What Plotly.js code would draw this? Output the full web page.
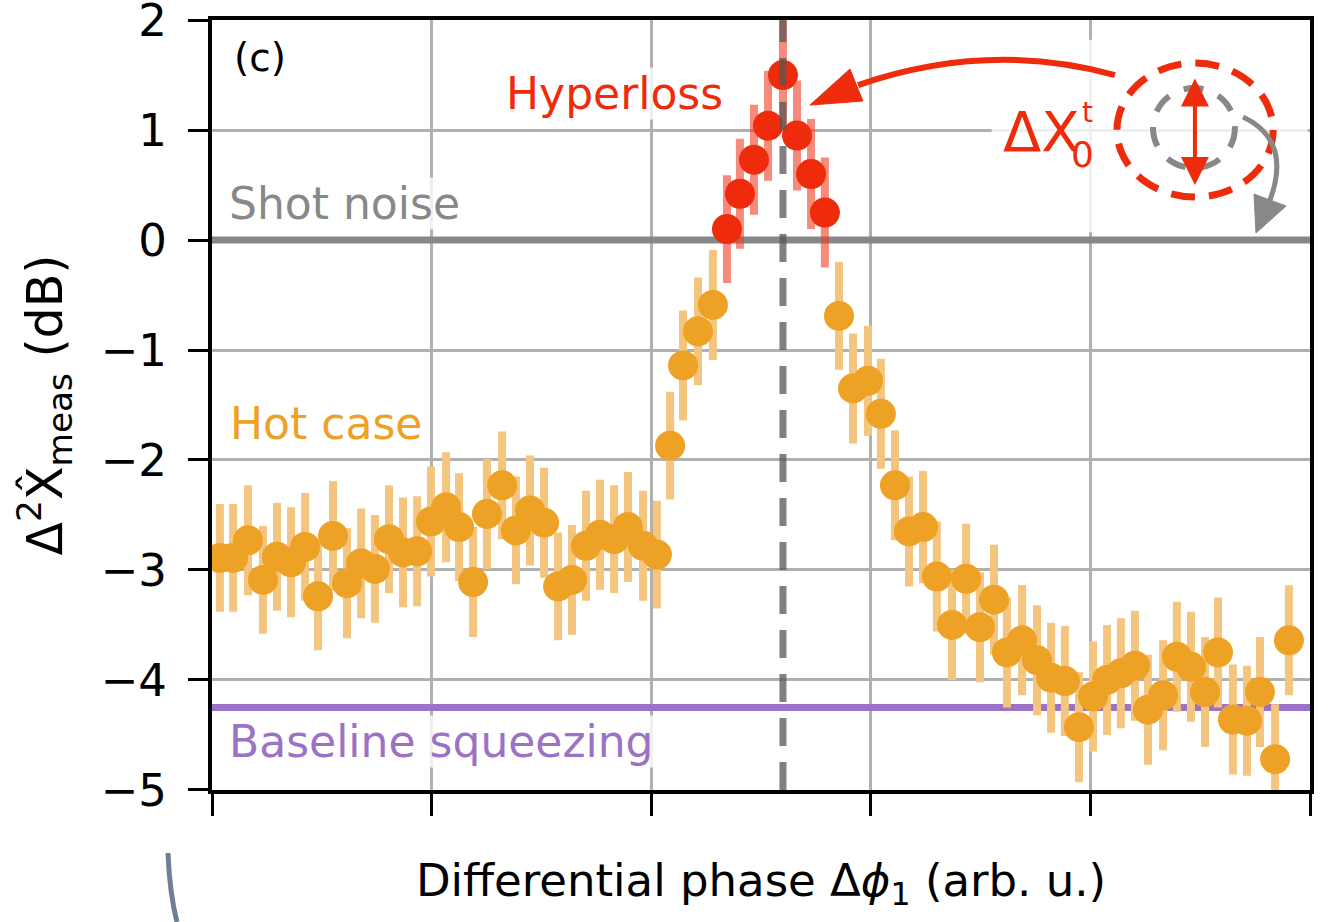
<!DOCTYPE html>
<html>
<head>
<meta charset="utf-8">
<script src="https://cdn.plot.ly/plotly-3.0.1.min.js"></script>
<style>
  html, body { margin: 0; padding: 0; background: #fff; }
  #plot { width: 1332px; height: 922px; }
</style>
</head>
<body>
<div id="plot"></div>
<script>
// hot case points (orange)
var hotPhase = [0.036, 0.096, 0.164, 0.232, 0.296, 0.360, 0.424, 0.483, 0.551, 0.615,
  0.679, 0.742, 0.806, 0.870, 0.934, 0.997, 1.066, 1.125, 1.189, 1.252,
  1.321, 1.384, 1.448, 1.512, 1.576, 1.639, 1.703, 1.767, 1.831, 1.894,
  1.963, 2.026, 2.086, 2.145, 2.213, 2.281,
  2.855, 2.919, 2.987, 3.046, 3.110, 3.174, 3.238, 3.301, 3.370, 3.434,
  3.497, 3.561, 3.620, 3.689, 3.757, 3.821, 3.884, 3.948, 4.012, 4.076,
  4.139, 4.203, 4.262, 4.331, 4.394, 4.458, 4.522, 4.581, 4.649, 4.713,
  4.772, 4.841, 4.904];
var hotVar = [-2.89, -2.89, -2.73, -3.09, -2.88, -2.93, -2.79, -3.24, -2.69, -3.12,
  -2.94, -2.99, -2.72, -2.84, -2.83, -2.56, -2.43, -2.61, -3.11, -2.49,
  -2.23, -2.64, -2.46, -2.57, -3.15, -3.09, -2.78, -2.68, -2.72, -2.61,
  -2.78, -2.86, -1.87, -1.14, -0.83, -0.59,
  -0.69, -1.35, -1.28, -1.58, -2.23, -2.65, -2.61, -3.06, -3.50, -3.08,
  -3.52, -3.27, -3.75, -3.64, -3.82, -3.98, -4.01, -4.43, -4.15, -4.00,
  -3.94, -3.87, -4.27, -4.14, -3.79, -3.88, -4.11, -3.75, -4.36, -4.37,
  -4.11, -4.72, -3.64];
var hotErr = [0.49, 0.49, 0.50, 0.49, 0.49, 0.50, 0.49, 0.49, 0.50, 0.50,
  0.50, 0.49, 0.49, 0.50, 0.50, 0.50, 0.50, 0.49, 0.50, 0.50,
  0.49, 0.49, 0.50, 0.50, 0.49, 0.50, 0.50, 0.50, 0.49, 0.50,
  0.50, 0.49, 0.49, 0.50, 0.49, 0.50,
  0.49, 0.50, 0.50, 0.50, 0.50, 0.50, 0.51, 0.50, 0.50, 0.50,
  0.50, 0.50, 0.50, 0.50, 0.50, 0.50, 0.50, 0.50, 0.50, 0.50,
  0.50, 0.50, 0.50, 0.50, 0.50, 0.50, 0.50, 0.50, 0.50, 0.50,
  0.50, 0.50, 0.50];

// hyperloss points (red)
var hyperPhase = [2.345, 2.404, 2.468, 2.532, 2.600, 2.664, 2.728, 2.791];
var hyperVar = [0.10, 0.42, 0.73, 1.04, 1.50, 0.95, 0.60, 0.25];
var hyperErr = [0.49, 0.50, 0.50, 0.50, 0.50, 0.50, 0.50, 0.50];

// reference levels
var shotNoise = 0;
var baseline = -4.25;
var peakPhase = 2.60;
var phaseSpan = [0, 5];

var yTicks = [-5, -4, -3, -2, -1, 0, 1, 2];
var xTicks = [0, 1, 2, 3, 4, 5];

var orange = '#eda125', orangeBar = '#f3c57e';
var red = '#ee2c0c', redBar = 'rgba(240,60,35,0.6)';
var gray = '#888888', purple = '#9c72c4';
var font = 'DejaVu Sans, Liberation Sans, sans-serif';

function level(value, color) {
  return {x: phaseSpan, y: [value, value], type: 'scatter', mode: 'lines',
    line: {color: color, width: 7}, showlegend: false, hoverinfo: 'skip', cliponaxis: false};
}

var hot = {
  x: hotPhase, y: hotVar, type: 'scatter', mode: 'markers',
  marker: {color: orange, size: 30},
  error_y: {type: 'data', array: hotErr, visible: true, color: orangeBar, thickness: 8, width: 0},
  showlegend: false
};
var hyper = {
  x: hyperPhase, y: hyperVar, type: 'scatter', mode: 'markers',
  marker: {color: red, size: 30},
  error_y: {type: 'data', array: hyperErr, visible: true, color: redBar, thickness: 8, width: 0},
  showlegend: false
};

function label(text, x, y, color, size, extra) {
  var a = {text: text, x: x, y: y, xref: 'x', yref: 'y', showarrow: false,
    xanchor: 'left', yanchor: 'middle', font: {family: font, size: size, color: color},
    bgcolor: 'rgba(255,255,255,0.8)', borderpad: 0};
  for (var k in extra) a[k] = extra[k];
  return a;
}

var layout = {
  width: 1332, height: 922,
  margin: {l: 212, r: 22, t: 20, b: 132},
  paper_bgcolor: '#fff', plot_bgcolor: '#fff',
  font: {family: font, size: 44, color: '#000'},
  xaxis: {
    range: phaseSpan, tickvals: xTicks, showticklabels: false,
    ticks: 'outside', ticklen: 22, tickwidth: 3, tickcolor: '#000',
    showline: true, linewidth: 4, linecolor: '#000', mirror: true,
    showgrid: true, gridcolor: '#b0b0b0', gridwidth: 3, zeroline: false,
    title: {text: 'Differential phase Δ<i>ϕ</i><sub>1</sub> (arb. u.)', font: {size: 45}, standoff: 50}
  },
  yaxis: {
    range: [-5.0005, 2.0005], tickvals: yTicks,
    ticks: 'outside', ticklen: 20, tickwidth: 3, tickcolor: '#000',
    showline: true, linewidth: 4, linecolor: '#000', mirror: true,
    showgrid: true, gridcolor: '#b0b0b0', gridwidth: 3, zeroline: false,
    tickfont: {size: 45}, ticklabelstandoff: 12, ticklabeloverflow: 'allow',
    title: {text: 'Δ<sup>2</sup>X\u0302<sub>meas</sub> (dB)', font: {size: 49}, standoff: 24}
  },
  shapes: [
    // faded box behind the sketch in the corner
    {type: 'rect', xref: 'x', yref: 'y', x0: 3.55, x1: 4.99, y0: 0.07, y1: 1.82,
      fillcolor: 'rgba(255,255,255,0.8)', line: {width: 0}, layer: 'above'},
    {type: 'line', xref: 'x', yref: 'paper', x0: peakPhase, x1: peakPhase, y0: 0, y1: 1,
      line: {color: 'rgba(85,85,85,0.75)', width: 7, dash: '28px,16px'}, layer: 'above'},
    // sketch: dashed circles
    {type: 'circle', xref: 'x', yref: 'y', x0: 4.121, x1: 4.832, y0: 0.391, y1: 1.609,
      line: {color: red, width: 7, dash: '24px,14px'}, layer: 'above'},
    {type: 'circle', xref: 'x', yref: 'y', x0: 4.285, x1: 4.658, y0: 0.655, y1: 1.382,
      line: {color: gray, width: 6, dash: '20px,16px'}, layer: 'above'},
    // red curved arrow to the peak
    {type: 'path', xref: 'x', yref: 'y', path: 'M 4.112 1.500 Q 3.538 1.818 2.942 1.409',
      line: {color: red, width: 6}, layer: 'above'},
    {type: 'path', xref: 'x', yref: 'y', path: 'M 2.723 1.227 L 2.905 1.555 L 2.964 1.264 Z',
      fillcolor: red, line: {color: red, width: 1}, layer: 'above'},
    // gray rotation arrow
    {type: 'path', xref: 'x', yref: 'y', path: 'M 4.695 1.118 Q 4.918 0.909 4.818 0.364',
      line: {color: gray, width: 5}, layer: 'above'},
    {type: 'path', xref: 'x', yref: 'y', path: 'M 4.754 0.064 L 4.891 0.309 L 4.745 0.418 Z',
      fillcolor: gray, line: {color: gray, width: 1}, layer: 'above'},
    // stray curve from the neighbouring panel
    {type: 'path', xref: 'paper', yref: 'paper', path: 'M -0.0401 -0.0818 Q -0.0385 -0.135 -0.0319 -0.1714',
      line: {color: '#6f7f94', width: 5}, layer: 'above'}
  ],
  annotations: [
    {text: '(c)', x: 0.091, y: 1.66, xref: 'x', yref: 'y', showarrow: false, xanchor: 'left', yanchor: 'middle',
      font: {family: font, size: 39, color: '#000'}},
    label('Hyperloss', 1.334, 1.336, red, 44),
    label('Shot noise', 0.073, 0.336, gray, 44),
    label('Hot case', 0.077, -1.664, orange, 44),
    label('Baseline squeezing', 0.073, -4.56, purple, 44),
    label('ΔX', 3.598, 0.99, red, 56, {bgcolor: 'rgba(0,0,0,0)'}),
    label('0', 3.906, 0.78, red, 36, {bgcolor: 'rgba(0,0,0,0)'}),
    label('t', 3.956, 1.155, red, 28, {bgcolor: 'rgba(0,0,0,0)'}),
    // red double-headed arrow inside the circle
    {text: '', x: 4.476, y: 0.5, ax: 4.476, ay: 1.482, xref: 'x', yref: 'y', axref: 'x', ayref: 'y',
      showarrow: true, arrowhead: 2, startarrowhead: 2, arrowside: 'end+start', arrowsize: 1.4,
      startarrowsize: 1.4, arrowwidth: 4, arrowcolor: red, standoff: 0, startstandoff: 0}
  ]
};

Plotly.newPlot('plot', [level(shotNoise, gray), level(baseline, purple), hot, hyper], layout,
  {displayModeBar: false, staticPlot: true});
</script>
</body>
</html>
